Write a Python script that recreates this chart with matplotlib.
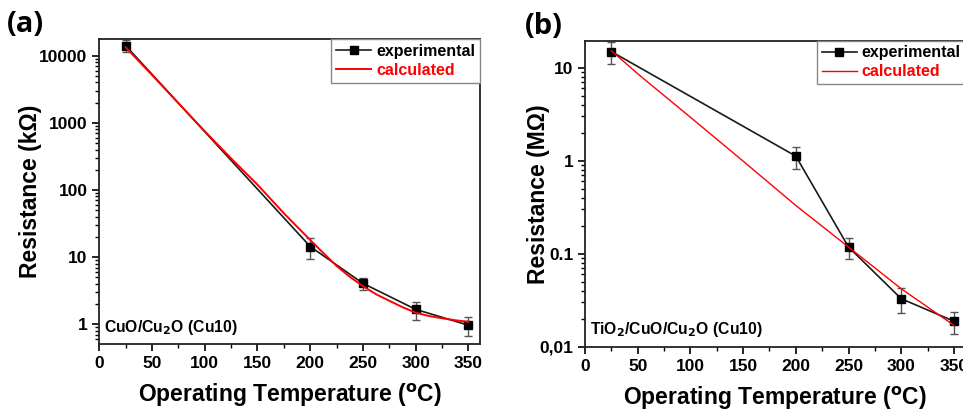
import numpy as np
import matplotlib.pyplot as plt
from matplotlib.ticker import FixedLocator, FixedFormatter, MultipleLocator, LogLocator, NullFormatter

plt.rcParams['font.family'] = ['Liberation Sans', 'DejaVu Sans']
plt.rcParams['font.weight'] = 'bold'

# panel (a): CuO/Cu2O, resistance in kOhm
temp = [25, 200, 250, 300, 350]
res_a = [14100, 14.4, 4.07, 1.67, 0.97]
err_a = [2800, 5.0, 0.8, 0.5, 0.3]
calc_t_a = [25, 50, 75, 100, 125, 150, 175, 200, 212.5, 225, 237.5, 250, 262.5, 275, 287.5, 300, 312.5, 325, 337.5, 350]
calc_a = [13300, 5150, 1960, 750, 295, 120, 45, 18, 11.5, 7.4, 5.1, 3.7, 2.8, 2.24, 1.8, 1.49, 1.33, 1.23, 1.15, 1.09]

# panel (b): TiO2/CuO/Cu2O, resistance in MOhm
res_b = [14.9, 1.12, 0.118, 0.0328, 0.0188]
err_b = [4.0, 0.3, 0.031, 0.01, 0.005]
calc_t_b = [25, 50, 100, 150, 200, 250, 300, 350]
calc_b = [15.2, 8.6, 2.93, 0.99, 0.33, 0.118, 0.042, 0.017]

W, H = 963, 409
fig = plt.figure(figsize=(W / 100, H / 100), dpi=100)

def make_axes(l, r, t, b):
    return fig.add_axes([l / W, 1 - b / H, (r - l) / W, (b - t) / H])

ax1 = make_axes(99.3, 480, 39, 344.3)
ax2 = make_axes(585, 965.5, 40.7, 346.7)

for ax, res, err, ct, cv, lw_c in [(ax1, res_a, err_a, calc_t_a, calc_a, 1.4),
                                  (ax2, res_b, err_b, calc_t_b, calc_b, 1.0)]:
    ax.plot(temp, res, '-', color='#1a1a1a', lw=1.2, marker='s', ms=5.5, mfc='black', mec='black', label='experimental', zorder=3)
    ax.errorbar(temp, res, yerr=err, fmt='none', ecolor='#555555', elinewidth=1.0, capsize=3, capthick=1.0, zorder=2)
    ax.plot(ct, cv, '-', color='red', lw=lw_c, label='calculated', zorder=4)
    ax.set_yscale('log')
    ax.set_xlim(0, 361)
    ax.xaxis.set_major_locator(MultipleLocator(50))
    ax.xaxis.set_minor_locator(MultipleLocator(25))
    ax.yaxis.set_minor_locator(LogLocator(base=10, subs=np.arange(2, 10)))
    ax.yaxis.set_minor_formatter(NullFormatter())
    ax.tick_params(which='major', direction='out', length=5, width=1.2, labelsize=12.5)
    ax.tick_params(which='minor', direction='out', length=3, width=1.0)
    ax.tick_params(top=False, right=False)
    for s in ax.spines.values():
        s.set_linewidth(1.3)
        s.set_color('#222222')
    ax.set_xlabel('Operating Temperature ($\\mathbf{^{o}}$C)', fontsize=16.5, fontweight='bold', labelpad=8)
    leg = ax.legend(loc='upper right', bbox_to_anchor=(1.0, 1.0), borderaxespad=0, fontsize=11.5,
                    fancybox=False, edgecolor='#888888', framealpha=1, handlelength=2.2,
                    borderpad=0.3, labelspacing=0.25, handletextpad=0.3)
    leg.get_frame().set_linewidth(1.0)
    leg.get_texts()[1].set_color('red')

ax1.set_ylim(0.504, 17700)
ax1.yaxis.set_major_locator(FixedLocator([1, 10, 100, 1000, 10000]))
ax1.yaxis.set_major_formatter(FixedFormatter(['1', '10', '100', '1000', '10000']))
ax1.set_ylabel('Resistance (k\u03a9)', fontsize=16.5, fontweight='bold')
ax1.yaxis.set_label_coords(-0.150, 0.5)
ax1.text(0.012, 0.025, 'CuO/Cu$\\mathbf{_2}$O (Cu10)', transform=ax1.transAxes, fontsize=11.3, fontweight='bold', ha='left', va='bottom')

ax2.set_ylim(0.01, 19.5)
ax2.yaxis.set_major_locator(FixedLocator([0.01, 0.1, 1, 10]))
ax2.yaxis.set_major_formatter(FixedFormatter(['0,01', '0.1', '1', '10']))
ax2.set_ylabel('Resistance (M\u03a9)', fontsize=16.5, fontweight='bold')
ax2.yaxis.set_label_coords(-0.092, 0.5)
ax2.text(0.012, 0.025, 'TiO$\\mathbf{_2}$/CuO/Cu$\\mathbf{_2}$O (Cu10)', transform=ax2.transAxes, fontsize=11.3, fontweight='bold', ha='left', va='bottom')

fig.text(7 / W, 1 - 25 / H, '(a)', fontsize=21, fontweight='bold', family='Open Sans', ha='left', va='center')
fig.text(525 / W, 1 - 27 / H, '(b)', fontsize=21, fontweight='bold', family='Open Sans', ha='left', va='center')

fig.savefig('out.png', dpi=100)
